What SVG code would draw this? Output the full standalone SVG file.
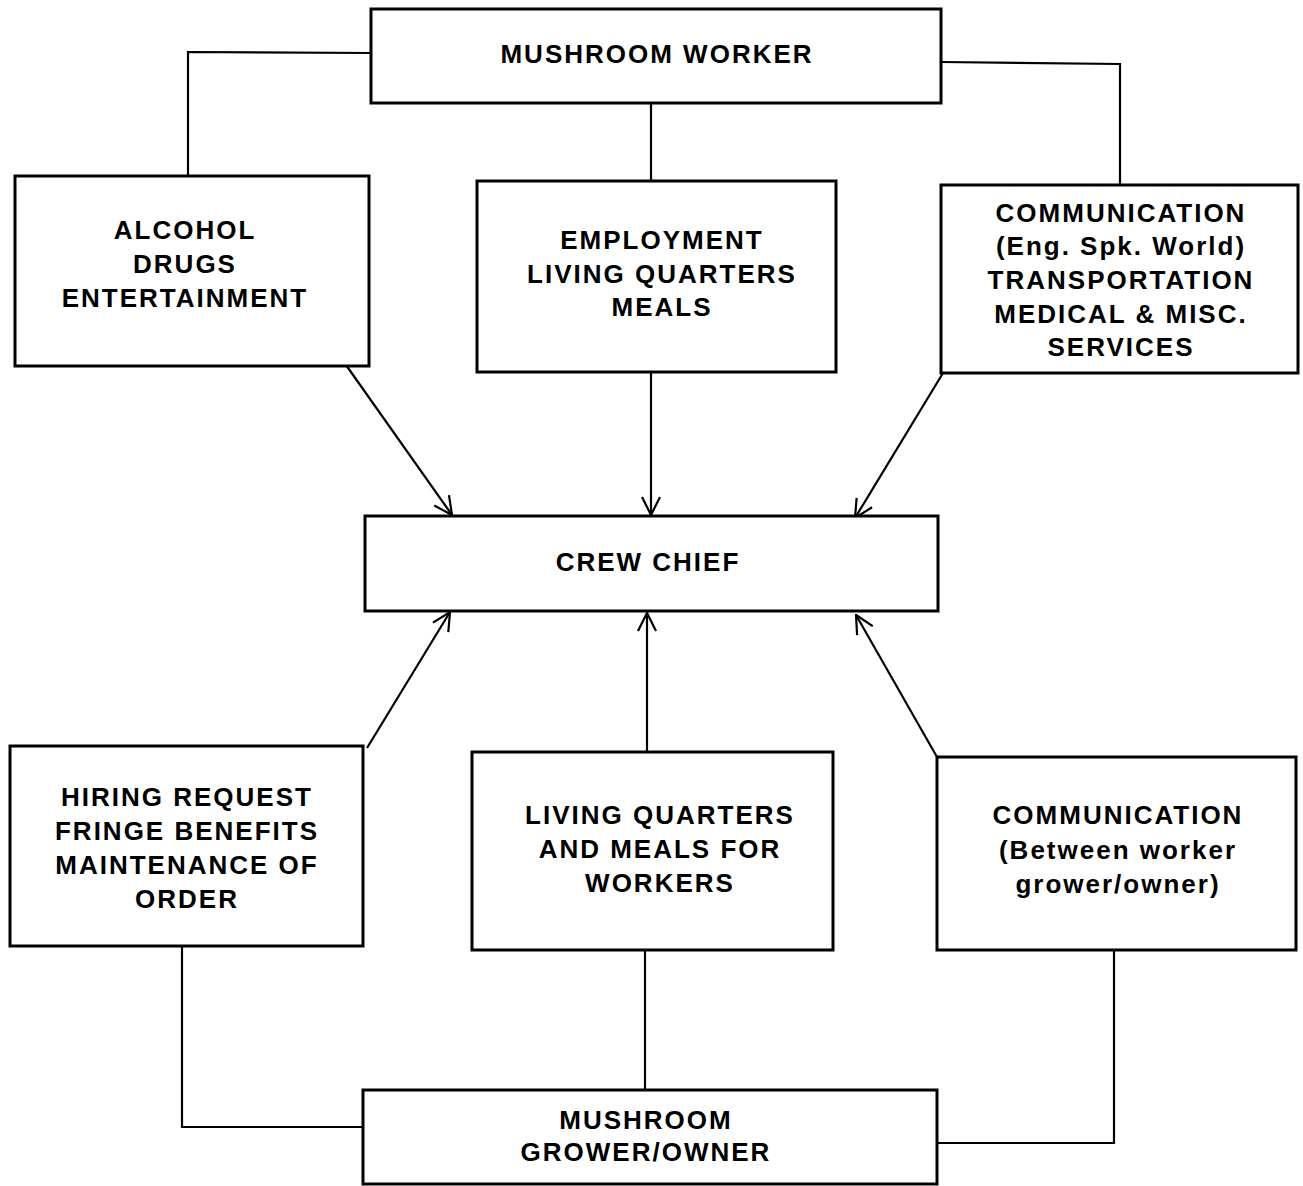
<svg xmlns="http://www.w3.org/2000/svg" width="1303" height="1186" viewBox="0 0 1303 1186">
<style>
.box{fill:#fff;stroke:#000;stroke-width:3}
.t{font-family:"Liberation Sans",Arial,sans-serif;font-weight:bold;font-size:26px;letter-spacing:2px;fill:#000;text-anchor:middle}
.c{fill:none;stroke:#000;stroke-width:2.2}
</style>
<defs>
<marker id="ah" viewBox="0 0 22 22" refX="21" refY="11" markerWidth="22" markerHeight="22" markerUnits="userSpaceOnUse" orient="auto">
<path d="M3,2 L21,11 L3,20" fill="none" stroke="#000" stroke-width="2.2"/>
</marker>
</defs>
<rect width="1303" height="1186" fill="#fff"/>
<g id="connectors">
<polyline class="c" points="371,53 188,52 188,175"/>
<polyline class="c" points="941,62 1120,64 1120,185"/>
<line class="c" x1="651" y1="103" x2="651" y2="181"/>
<line class="c" x1="346" y1="365" x2="452" y2="515" marker-end="url(#ah)"/>
<line class="c" x1="651" y1="372" x2="651" y2="515" marker-end="url(#ah)"/>
<line class="c" x1="943" y1="373" x2="855" y2="518" marker-end="url(#ah)"/>
<line class="c" x1="367" y1="748" x2="450" y2="612" marker-end="url(#ah)"/>
<line class="c" x1="647" y1="752" x2="647" y2="613" marker-end="url(#ah)"/>
<line class="c" x1="937" y1="757" x2="856" y2="615" marker-end="url(#ah)"/>
<polyline class="c" points="182,946 182,1127 363,1127"/>
<line class="c" x1="645" y1="950" x2="645" y2="1090"/>
<polyline class="c" points="1114,950 1114,1143 937,1143"/>
</g>
<g id="mushroom-worker">
<rect class="box" x="371" y="9" width="570" height="94"/>
<text class="t" x="657" y="63">MUSHROOM WORKER</text>
</g>
<g id="alcohol">
<rect class="box" x="15" y="176" width="354" height="190"/>
<text class="t" x="185" y="239">ALCOHOL</text>
<text class="t" x="185" y="273">DRUGS</text>
<text class="t" x="185" y="307">ENTERTAINMENT</text>
</g>
<g id="employment">
<rect class="box" x="477" y="181" width="359" height="191"/>
<text class="t" x="662" y="249">EMPLOYMENT</text>
<text class="t" x="662" y="283">LIVING QUARTERS</text>
<text class="t" x="662" y="316">MEALS</text>
</g>
<g id="communication">
<rect class="box" x="941" y="185" width="357" height="188"/>
<text class="t" x="1121" y="222">COMMUNICATION</text>
<text class="t" x="1121" y="255">(Eng. Spk. World)</text>
<text class="t" x="1121" y="289">TRANSPORTATION</text>
<text class="t" x="1121" y="323">MEDICAL &amp; MISC.</text>
<text class="t" x="1121" y="356">SERVICES</text>
</g>
<g id="crew-chief">
<rect class="box" x="365" y="516" width="573" height="95"/>
<text class="t" x="648" y="571">CREW CHIEF</text>
</g>
<g id="hiring">
<rect class="box" x="10" y="746" width="353" height="200"/>
<text class="t" x="187" y="806">HIRING REQUEST</text>
<text class="t" x="187" y="840">FRINGE BENEFITS</text>
<text class="t" x="187" y="874">MAINTENANCE OF</text>
<text class="t" x="187" y="908">ORDER</text>
</g>
<g id="living">
<rect class="box" x="472" y="752" width="361" height="198"/>
<text class="t" x="660" y="824">LIVING QUARTERS</text>
<text class="t" x="660" y="858">AND MEALS FOR</text>
<text class="t" x="660" y="892">WORKERS</text>
</g>
<g id="communication-2">
<rect class="box" x="937" y="757" width="359" height="193"/>
<text class="t" x="1118" y="824">COMMUNICATION</text>
<text class="t" x="1118" y="859">(Between worker</text>
<text class="t" x="1118" y="893">grower/owner)</text>
</g>
<g id="mushroom-grower">
<rect class="box" x="363" y="1090" width="574" height="94"/>
<text class="t" x="646" y="1129">MUSHROOM</text>
<text class="t" x="646" y="1161">GROWER/OWNER</text>
</g>
</svg>
